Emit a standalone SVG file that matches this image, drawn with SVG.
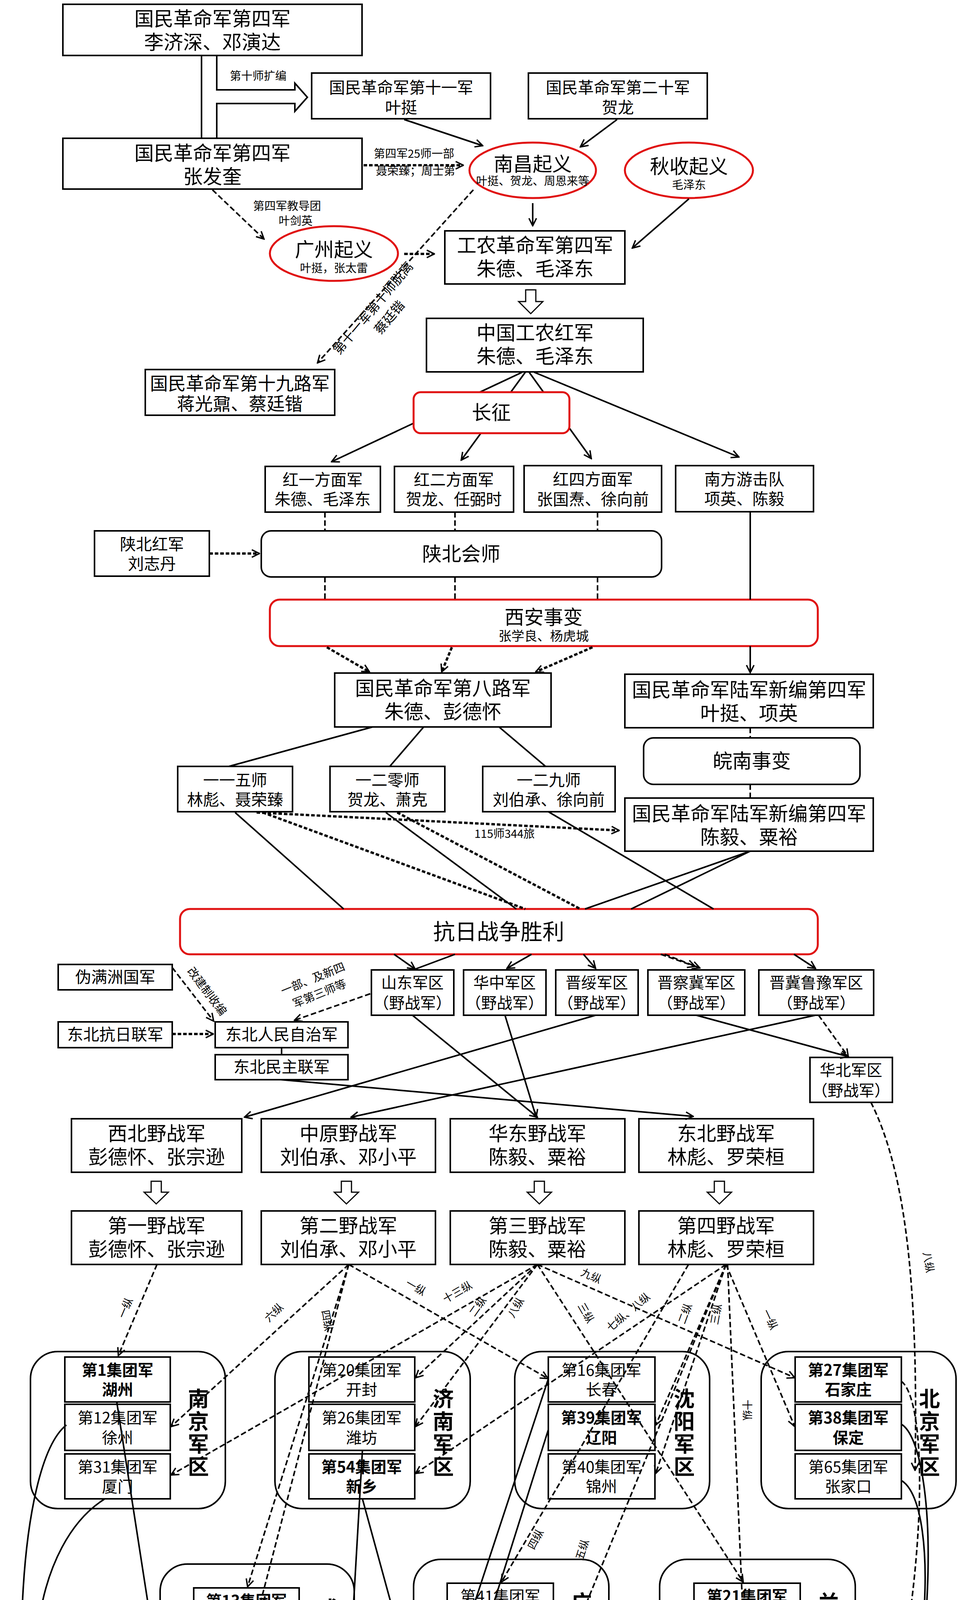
<svg xmlns="http://www.w3.org/2000/svg" width="2453" height="5820" viewBox="0 0 2453 5820">
<style>
text{font-family:"Noto Sans CJK SC","Noto Sans",sans-serif;fill:#000;text-anchor:middle}
.b{fill:#fff;stroke:#000;stroke-width:4}
.r{fill:#fff;stroke:#e01010;stroke-width:5}
.g{fill:none;stroke:#000;stroke-width:4}
.u{fill:none;stroke:#1f6fb5;stroke-width:5}
.s{fill:none;stroke:#000;stroke-width:4}
.d{fill:none;stroke:#000;stroke-width:4;stroke-dasharray:14 7}
.dt{fill:none;stroke:#000;stroke-width:6;stroke-dasharray:9 5}
.f50{font-size:50px}.f46{font-size:46px}.f41{font-size:41px}.f40{font-size:40px}.f33{font-size:33px}.f29{font-size:29px}.f26{font-size:27px}
.rg{font-size:54px;font-weight:bold}
.bd{font-weight:bold}
</style>
<defs>
<marker id="a" viewBox="0 0 20 20" refX="18" refY="10" markerWidth="24" markerHeight="24" markerUnits="userSpaceOnUse" orient="auto"><path d="M2,2 L18,10 L2,18" fill="none" stroke="#000" stroke-width="3"/></marker>
</defs>

<g id="n-4a"><rect class="b" x="161" y="11" width="766" height="131"/><text class="f50" x="544" y="66">国民革命军第四军</text><text class="f50" x="544" y="126">李济深、邓演达</text></g>
<g id="n-11"><rect class="b" x="798" y="187" width="458" height="117"/><text class="f41" x="1027" y="239">国民革命军第十一军</text><text class="f41" x="1027" y="290">叶挺</text></g>
<g id="n-20"><rect class="b" x="1353" y="187" width="458" height="117"/><text class="f41" x="1582" y="239">国民革命军第二十军</text><text class="f41" x="1582" y="290">贺龙</text></g>
<g id="n-4b"><rect class="b" x="161" y="354" width="766" height="130"/><text class="f50" x="544" y="410">国民革命军第四军</text><text class="f50" x="544" y="470">张发奎</text></g>
<g id="n-nc"><ellipse class="r" cx="1364" cy="436" rx="162" ry="71"/><text class="f50" x="1364" y="438">南昌起义</text><text class="f29" x="1364" y="474">叶挺、贺龙、周恩来等</text></g>
<g id="n-qs"><ellipse class="r" cx="1764" cy="436" rx="164" ry="71"/><text class="f50" x="1764" y="444">秋收起义</text><text class="f29" x="1764" y="484">毛泽东</text></g>
<g id="n-gz"><ellipse class="r" cx="855" cy="649" rx="164" ry="70"/><text class="f50" x="855" y="657">广州起义</text><text class="f29" x="855" y="697">叶挺，张太雷</text></g>
<g id="n-gn"><rect class="b" x="1139" y="591" width="461" height="136"/><text class="f50" x="1370" y="646">工农革命军第四军</text><text class="f50" x="1370" y="706">朱德、毛泽东</text></g>
<g id="n-hj"><rect class="b" x="1092" y="815" width="555" height="137"/><text class="f50" x="1370" y="870">中国工农红军</text><text class="f50" x="1370" y="930">朱德、毛泽东</text></g>
<g id="n-19"><rect class="b" x="372" y="946" width="485" height="117"/><text class="f46" x="614" y="998">国民革命军第十九路军</text><text class="f46" x="614" y="1050">蒋光鼐、蔡廷锴</text></g>

<g id="n-h1"><rect class="b" x="679" y="1194" width="295" height="117"/><text class="f41" x="826" y="1243">红一方面军</text><text class="f41" x="826" y="1293">朱德、毛泽东</text></g>
<g id="n-h2"><rect class="b" x="1010" y="1194" width="305" height="117"/><text class="f41" x="1162" y="1243">红二方面军</text><text class="f41" x="1162" y="1293">贺龙、任弼时</text></g>
<g id="n-h4"><rect class="b" x="1342" y="1192" width="352" height="119"/><text class="f41" x="1518" y="1242">红四方面军</text><text class="f41" x="1518" y="1293">张国焘、徐向前</text></g>
<g id="n-nf"><rect class="b" x="1730" y="1192" width="353" height="118"/><text class="f41" x="1906" y="1242">南方游击队</text><text class="f41" x="1906" y="1292">项英、陈毅</text></g>
<g id="n-sbh"><rect class="b" x="242" y="1359" width="294" height="116"/><text class="f41" x="389" y="1408">陕北红军</text><text class="f41" x="389" y="1458">刘志丹</text></g>
<g id="n-sbhs"><rect class="b" x="669" y="1359" width="1025" height="118" rx="25"/><text class="f50" x="1181" y="1436">陕北会师</text></g>
<g id="n-xa"><rect class="r" x="691" y="1535" width="1403" height="119" rx="25"/><text class="f50" x="1392" y="1598">西安事变</text><text class="f33" x="1392" y="1640">张学良、杨虎城</text></g>
<g id="n-8l"><rect class="b" x="857" y="1723" width="554" height="138"/><text class="f50" x="1134" y="1780">国民革命军第八路军</text><text class="f50" x="1134" y="1840">朱德、彭德怀</text></g>
<g id="n-x4a"><rect class="b" x="1600" y="1726" width="636" height="137"/><text class="f50" x="1918" y="1784" textLength="600" lengthAdjust="spacingAndGlyphs">国民革命军陆军新编第四军</text><text class="f50" x="1918" y="1844">叶挺、项英</text></g>
<g id="n-wn"><rect class="b" x="1648" y="1889" width="554" height="119" rx="25"/><text class="f50" x="1925" y="1966">皖南事变</text></g>
<g id="n-x4b"><rect class="b" x="1600" y="2043" width="636" height="136"/><text class="f50" x="1918" y="2101" textLength="600" lengthAdjust="spacingAndGlyphs">国民革命军陆军新编第四军</text><text class="f50" x="1918" y="2161">陈毅、粟裕</text></g>
<g id="n-115"><rect class="b" x="455" y="1962" width="294" height="116"/><text class="f41" x="602" y="2012">一一五师</text><text class="f41" x="602" y="2062">林彪、聂荣臻</text></g>
<g id="n-120"><rect class="b" x="845" y="1962" width="294" height="116"/><text class="f41" x="992" y="2012">一二零师</text><text class="f41" x="992" y="2062">贺龙、萧克</text></g>
<g id="n-129"><rect class="b" x="1236" y="1962" width="339" height="116"/><text class="f41" x="1405" y="2012">一二九师</text><text class="f41" x="1405" y="2062">刘伯承、徐向前</text></g>
<g id="n-kr"><rect class="r" x="461" y="2327" width="1633" height="116" rx="25"/><text x="1277" y="2405" style="font-size:56px">抗日战争胜利</text></g>

<g id="n-wm"><rect class="b" x="149" y="2469" width="292" height="65"/><text class="f41" x="295" y="2516">伪满洲国军</text></g>
<g id="n-kl"><rect class="b" x="149" y="2616" width="292" height="66"/><text class="f41" x="295" y="2663">东北抗日联军</text></g>
<g id="n-zz"><rect class="b" x="551" y="2616" width="340" height="66"/><text class="f41" x="721" y="2663">东北人民自治军</text></g>
<g id="n-mz"><rect class="b" x="551" y="2700" width="340" height="64"/><text class="f41" x="721" y="2746">东北民主联军</text></g>
<g id="n-sd"><rect class="b" x="951" y="2483" width="211" height="116"/><text class="f40" x="1056" y="2530">山东军区</text><text class="f40" x="1056" y="2582">（野战军）</text></g>
<g id="n-hz"><rect class="b" x="1187" y="2483" width="211" height="116"/><text class="f40" x="1292" y="2530">华中军区</text><text class="f40" x="1292" y="2582">（野战军）</text></g>
<g id="n-js"><rect class="b" x="1423" y="2483" width="211" height="116"/><text class="f40" x="1528" y="2530">晋绥军区</text><text class="f40" x="1528" y="2582">（野战军）</text></g>
<g id="n-jcj"><rect class="b" x="1659" y="2483" width="248" height="116"/><text class="f40" x="1783" y="2530">晋察冀军区</text><text class="f40" x="1783" y="2582">（野战军）</text></g>
<g id="n-jjly"><rect class="b" x="1943" y="2483" width="294" height="116"/><text class="f40" x="2090" y="2530">晋冀鲁豫军区</text><text class="f40" x="2090" y="2582">（野战军）</text></g>
<g id="n-hb"><rect class="b" x="2074" y="2707" width="211" height="115"/><text class="f40" x="2179" y="2754">华北军区</text><text class="f40" x="2179" y="2806">（野战军）</text></g>

<g id="n-xb"><rect class="b" x="183" y="2864" width="436" height="137"/><text class="f50" x="401" y="2920">西北野战军</text><text class="f50" x="401" y="2980">彭德怀、张宗逊</text></g>
<g id="n-zy"><rect class="b" x="669" y="2864" width="446" height="137"/><text class="f50" x="892" y="2920">中原野战军</text><text class="f50" x="892" y="2980">刘伯承、邓小平</text></g>
<g id="n-hd"><rect class="b" x="1153" y="2864" width="447" height="137"/><text class="f50" x="1376" y="2920">华东野战军</text><text class="f50" x="1376" y="2980">陈毅、粟裕</text></g>
<g id="n-db"><rect class="b" x="1636" y="2864" width="447" height="137"/><text class="f50" x="1859" y="2920">东北野战军</text><text class="f50" x="1859" y="2980">林彪、罗荣桓</text></g>
<g id="n-y1"><rect class="b" x="183" y="3100" width="436" height="137"/><text class="f50" x="401" y="3156">第一野战军</text><text class="f50" x="401" y="3216">彭德怀、张宗逊</text></g>
<g id="n-y2"><rect class="b" x="669" y="3100" width="446" height="137"/><text class="f50" x="892" y="3156">第二野战军</text><text class="f50" x="892" y="3216">刘伯承、邓小平</text></g>
<g id="n-y3"><rect class="b" x="1153" y="3100" width="447" height="137"/><text class="f50" x="1376" y="3156">第三野战军</text><text class="f50" x="1376" y="3216">陈毅、粟裕</text></g>
<g id="n-y4"><rect class="b" x="1636" y="3100" width="447" height="137"/><text class="f50" x="1859" y="3156">第四野战军</text><text class="f50" x="1859" y="3216">林彪、罗荣桓</text></g>

<g id="r-nj"><rect class="g" x="78" y="3460" width="499" height="402" rx="70"/>
<rect class="b" x="166" y="3474" width="270" height="115"/><text class="f40 bd" x="301" y="3522">第1集团军</text><text class="f40 bd" x="301" y="3572">湖州</text>
<rect class="b" x="166" y="3595" width="270" height="118"/><text class="f40" x="301" y="3644">第12集团军</text><text class="f40" x="301" y="3695">徐州</text>
<rect class="b" x="166" y="3722" width="270" height="115"/><text class="f40" x="301" y="3770">第31集团军</text><text class="f40" x="301" y="3820">厦门</text>
<text class="rg"><tspan x="508" y="3601">南</tspan><tspan x="508" y="3659">京</tspan><tspan x="508" y="3717">军</tspan><tspan x="508" y="3775">区</tspan></text></g>
<g id="r-jn"><rect class="g" x="704" y="3460" width="500" height="402" rx="70"/>
<rect class="b" x="791" y="3474" width="271" height="115"/><text class="f40" x="926" y="3522">第20集团军</text><text class="f40" x="926" y="3572">开封</text>
<rect class="b" x="791" y="3595" width="271" height="118"/><text class="f40" x="926" y="3644">第26集团军</text><text class="f40" x="926" y="3695">潍坊</text>
<rect class="b" x="791" y="3722" width="271" height="115"/><text class="f40 bd" x="926" y="3770">第54集团军</text><text class="f40 bd" x="926" y="3820">新乡</text>
<text class="rg"><tspan x="1135" y="3601">济</tspan><tspan x="1135" y="3659">南</tspan><tspan x="1135" y="3717">军</tspan><tspan x="1135" y="3775">区</tspan></text></g>
<g id="r-sy"><rect class="g" x="1318" y="3460" width="499" height="402" rx="70"/>
<rect class="b" x="1404" y="3474" width="273" height="115"/><text class="f40" x="1540" y="3522">第16集团军</text><text class="f40" x="1540" y="3572">长春</text>
<rect class="b" x="1404" y="3595" width="273" height="118"/><text class="f40 bd" x="1540" y="3644">第39集团军</text><text class="f40 bd" x="1540" y="3695">辽阳</text>
<rect class="b" x="1404" y="3722" width="273" height="115"/><text class="f40" x="1540" y="3770">第40集团军</text><text class="f40" x="1540" y="3820">锦州</text>
<text class="rg"><tspan x="1752" y="3601">沈</tspan><tspan x="1752" y="3659">阳</tspan><tspan x="1752" y="3717">军</tspan><tspan x="1752" y="3775">区</tspan></text></g>
<g id="r-bj"><rect class="g" x="1949" y="3460" width="499" height="402" rx="70"/>
<rect class="b" x="2036" y="3474" width="272" height="115"/><text class="f40 bd" x="2172" y="3522">第27集团军</text><text class="f40 bd" x="2172" y="3572">石家庄</text>
<rect class="b" x="2036" y="3595" width="272" height="118"/><text class="f40 bd" x="2172" y="3644">第38集团军</text><text class="f40 bd" x="2172" y="3695">保定</text>
<rect class="b" x="2036" y="3722" width="272" height="115"/><text class="f40" x="2172" y="3770">第65集团军</text><text class="f40" x="2172" y="3820">张家口</text>
<text class="rg"><tspan x="2380" y="3601">北</tspan><tspan x="2380" y="3659">京</tspan><tspan x="2380" y="3717">军</tspan><tspan x="2380" y="3775">区</tspan></text></g>

<g id="r-cd"><rect class="g" x="410" y="4004" width="497" height="400" rx="70"/>
<rect class="b" x="496" y="4065" width="270" height="117"/><text class="f40 bd" x="631" y="4113">第13集团军</text><text class="f40 bd" x="631" y="4164">重庆</text>
<rect class="b" x="496" y="4231" width="270" height="116"/><text class="f40" x="631" y="4279">第14集团军</text><text class="f40" x="631" y="4330">昆明</text>
<text class="rg"><tspan x="841" y="4139">成</tspan><tspan x="841" y="4197">都</tspan><tspan x="841" y="4255">军</tspan><tspan x="841" y="4313">区</tspan></text></g>
<g id="r-gz"><rect class="g" x="1059" y="3992" width="500" height="401" rx="70"/>
<rect class="b" x="1145" y="4053" width="272" height="116"/><text class="f40" x="1281" y="4101">第41集团军</text><text class="f40" x="1281" y="4152">柳州</text>
<rect class="b" x="1145" y="4218" width="272" height="117"/><text class="f40" x="1281" y="4266">第42集团军</text><text class="f40" x="1281" y="4317">惠州</text>
<text class="rg"><tspan x="1489" y="4123">广</tspan><tspan x="1489" y="4183">州</tspan><tspan x="1489" y="4243">军</tspan><tspan x="1489" y="4303">区</tspan></text></g>
<g id="r-lz"><rect class="g" x="1689" y="3992" width="501" height="401" rx="70"/>
<rect class="b" x="1777" y="4053" width="272" height="116"/><text class="f40 bd" x="1913" y="4101">第21集团军</text><text class="f40 bd" x="1913" y="4152">宝鸡</text>
<rect class="b" x="1777" y="4218" width="272" height="117"/><text class="f40" x="1913" y="4266">第47集团军</text><text class="f40" x="1913" y="4317">西安</text>
<text class="rg"><tspan x="2122" y="4123">兰</tspan><tspan x="2122" y="4183">州</tspan><tspan x="2122" y="4243">军</tspan><tspan x="2122" y="4303">区</tspan></text></g>

<g id="t-db"><rect class="u" x="214" y="4662" width="602" height="534" rx="80"/>
<rect class="b" x="333" y="4690" width="319" height="136"/><text class="f46" x="492" y="4748">第71集团军</text><text class="f46" x="492" y="4806">徐州</text>
<rect class="b" x="333" y="4855" width="319" height="135"/><text class="f46" x="492" y="4913">第72集团军</text><text class="f46" x="492" y="4971">湖州</text>
<rect class="b" x="333" y="5020" width="319" height="135"/><text class="f46" x="492" y="5078">第73集团军</text><text class="f46" x="492" y="5136">厦门</text>
<text class="rg"><tspan x="738" y="4859">东</tspan><tspan x="738" y="4922">部</tspan><tspan x="738" y="4985">战</tspan><tspan x="738" y="5048">区</tspan></text></g>
<g id="t-nb"><rect class="u" x="899" y="4668" width="602" height="534" rx="80"/>
<rect class="b" x="1020" y="4749" width="317" height="135"/><text class="f46" x="1178" y="4807">第74集团军</text><text class="f46" x="1178" y="4865">惠州</text>
<rect class="b" x="1020" y="4974" width="317" height="136"/><text class="f46" x="1178" y="5032">第75集团军</text><text class="f46" x="1178" y="5090">昆明</text>
<text class="rg"><tspan x="1423" y="4859">南</tspan><tspan x="1423" y="4922">部</tspan><tspan x="1423" y="4985">战</tspan><tspan x="1423" y="5048">区</tspan></text></g>
<g id="t-xb"><rect class="u" x="1587" y="4668" width="603" height="534" rx="80"/>
<rect class="b" x="1706" y="4749" width="319" height="135"/><text class="f46" x="1865" y="4807">第76集团军</text><text class="f46" x="1865" y="4865">西宁</text>
<rect class="b" x="1706" y="4974" width="319" height="136"/><text class="f46" x="1865" y="5032">第77集团军</text><text class="f46" x="1865" y="5090">成都</text>
<text class="rg"><tspan x="2111" y="4859">西</tspan><tspan x="2111" y="4922">部</tspan><tspan x="2111" y="4985">战</tspan><tspan x="2111" y="5048">区</tspan></text></g>
<g id="t-bb"><rect class="u" x="536" y="5281" width="603" height="535" rx="80"/>
<rect class="b" x="657" y="5308" width="317" height="137"/><text class="f46" x="815" y="5367">第78集团军</text><text class="f46" x="815" y="5425">哈尔滨</text>
<rect class="b" x="657" y="5475" width="317" height="136"/><text class="f46" x="815" y="5533">第79集团军</text><text class="f46" x="815" y="5591">辽阳</text>
<rect class="b" x="657" y="5639" width="317" height="137"/><text class="f46" x="815" y="5698">第80集团军</text><text class="f46" x="815" y="5756">潍坊</text>
<text class="rg"><tspan x="1059" y="5475">北</tspan><tspan x="1059" y="5539">部</tspan><tspan x="1059" y="5603">战</tspan><tspan x="1059" y="5667">区</tspan></text></g>
<g id="t-zb"><rect class="u" x="1314" y="5281" width="602" height="535" rx="80"/>
<rect class="b" x="1436" y="5308" width="316" height="137"/><text class="f46" x="1594" y="5367">第81集团军</text><text class="f46" x="1594" y="5425">张家口</text>
<rect class="b" x="1436" y="5475" width="316" height="136"/><text class="f46" x="1594" y="5533">第82集团军</text><text class="f46" x="1594" y="5591">保定</text>
<rect class="b" x="1436" y="5639" width="316" height="137"/><text class="f46" x="1594" y="5698">第83集团军</text><text class="f46" x="1594" y="5756">新乡</text>
<text class="rg"><tspan x="1841" y="5475">中</tspan><tspan x="1841" y="5539">部</tspan><tspan x="1841" y="5603">战</tspan><tspan x="1841" y="5667">区</tspan></text></g>

<g id="connectors">
<path class="s" d="M516,142 V354"/>
<path class="s" d="M555,142 V230 H755 V213 L787,249 L755,285 V265 H555 V354"/>
<text class="f29" x="661" y="205">第十师扩编</text>
<path class="s" d="M1035,306 L1236,373" marker-end="url(#a)"/>
<path class="s" d="M1580,306 L1486,376" marker-end="url(#a)"/>
<path class="dt" d="M931,423 L1186,423" marker-end="url(#a)"/>
<text class="f29" x="1060" y="404">第四军25师一部</text>
<text class="f29" x="1064" y="448">聂荣臻；周士第</text>
<path class="s" d="M1364,520 L1364,578" marker-end="url(#a)"/>
<path class="s" d="M1764,509 L1619,635" marker-end="url(#a)"/>
<path class="d" d="M544,486 L676,612" marker-end="url(#a)"/>
<text class="f29" x="735" y="538">第四军教导团</text>
<text class="f29" x="757" y="576">叶剑英</text>
<path class="dt" d="M1035,650 L1112,650" marker-end="url(#a)"/>
<path class="d" d="M1212,486 L813,929" marker-end="url(#a)"/>
<text class="f33" transform="translate(964,796) rotate(-50)">第十一军第十师脱离</text>
<text class="f33" transform="translate(1006,820) rotate(-50)">蔡廷锴</text>
<polygon points="1346,742 1372,742 1372,772 1390,772 1359,803 1328,772 1346,772" fill="#fff" stroke="#000" stroke-width="3"/>
<path class="s" d="M1337,953 L849,1182" marker-end="url(#a)"/>
<path class="s" d="M1345,953 L1181,1178" marker-end="url(#a)"/>
<path class="s" d="M1355,953 L1514,1174" marker-end="url(#a)"/>
<path class="s" d="M1368,953 L1892,1170" marker-end="url(#a)"/>

<path class="d" d="M832,1311 V1359 M1165,1311 V1359 M1530,1311 V1359 M832,1477 V1535 M1165,1477 V1535 M1530,1477 V1535"/>
<path class="dt" d="M536,1417 L664,1417" marker-end="url(#a)"/>
<path class="s" d="M1921,1310 V1535"/>
<path class="s" d="M1921,1654 V1722" marker-end="url(#a)"/>
<path class="dt" d="M837,1657 L946,1720" marker-end="url(#a)"/>
<path class="dt" d="M1157,1657 L1131,1720" marker-end="url(#a)"/>
<path class="dt" d="M1517,1657 L1372,1720" marker-end="url(#a)"/>
<path class="d" d="M1921,1863 V1889 M1921,2008 V2043"/>
<path class="s" d="M954,1861 L586,1962 M1084,1862 L998,1962 M1279,1862 L1397,1962"/>
<path class="dt" d="M657,2080 L1585,2126" marker-end="url(#a)"/>
<text class="f29" x="1292" y="2145">115师344旅</text>
<path class="s" d="M602,2080 L880,2327 M988,2080 L1322,2327 M1404,2078 L1827,2327 M1921,2179 L1498,2327 M1921,2179 L1616,2327"/>
<path class="dt" d="M673,2080 L1345,2327 M1017,2080 L1486,2327"/>

<path class="s" d="M1009,2443 L1063,2481" marker-end="url(#a)"/>
<path class="s" d="M1165,2443 L1063,2481"/>
<path class="s" d="M1361,2443 L1298,2479" marker-end="url(#a)"/>
<path class="s" d="M1494,2443 L1525,2479" marker-end="url(#a)"/>
<path class="d" d="M1692,2443 L1780,2474" marker-end="url(#a)"/>
<path class="d" d="M1702,2443 L1792,2478" marker-end="url(#a)"/>
<path class="s" d="M2033,2443 L2088,2479" marker-end="url(#a)"/>
<path class="d" d="M441,2477 L547,2614" marker-end="url(#a)"/>
<text class="f29" transform="translate(522,2544) rotate(53)">改建制收编</text>
<path class="dt" d="M441,2647 L546,2647" marker-end="url(#a)"/>
<path class="d" d="M948,2544 L754,2612" marker-end="url(#a)"/>
<text class="f29" transform="translate(805,2515) rotate(-22)">一部、及新四</text>
<text class="f29" transform="translate(822,2553) rotate(-22)">军第三师等</text>
<path class="s" d="M721,2682 V2700"/>
<path class="s" d="M1056,2599 L1376,2860" marker-end="url(#a)"/>
<path class="s" d="M1293,2599 L1373,2860" marker-end="url(#a)"/>
<path class="s" d="M1525,2599 L626,2860" marker-end="url(#a)"/>
<path class="s" d="M1783,2599 L2172,2705" marker-end="url(#a)"/>
<path class="s" d="M2088,2599 L899,2860" marker-end="url(#a)"/>
<path class="d" d="M2096,2599 L2172,2705" marker-end="url(#a)"/>
<path class="s" d="M719,2764 L1775,2858" marker-end="url(#a)"/>

<g fill="#fff" stroke="#000" stroke-width="3">
<polygon points="387,3024 413,3024 413,3052 431,3052 400,3082 369,3052 387,3052"/>
<polygon points="874,3024 900,3024 900,3052 918,3052 887,3082 856,3052 874,3052"/>
<polygon points="1368,3024 1394,3024 1394,3052 1412,3052 1381,3082 1350,3052 1368,3052"/>
<polygon points="1829,3024 1855,3024 1855,3052 1873,3052 1842,3082 1811,3052 1829,3052"/>
</g>

<path class="d" d="M402,3237 L303,3470" marker-end="url(#a)"/>
<path class="d" d="M893,3237 L438,3652" marker-end="url(#a)"/>
<path class="d" d="M893,3237 L634,4062" marker-end="url(#a)"/>
<path class="d" d="M893,3237 L634,4228" marker-end="url(#a)"/>
<path class="d" d="M893,3237 L1403,3529" marker-end="url(#a)"/>
<path class="d" d="M1376,3237 L1064,3527" marker-end="url(#a)"/>
<path class="d" d="M1376,3237 L1064,3652" marker-end="url(#a)"/>
<path class="d" d="M1376,3237 L438,3776" marker-end="url(#a)"/>
<path class="d" d="M1376,3237 L2035,3527" marker-end="url(#a)"/>
<path class="d" d="M1376,3237 L1903,4050" marker-end="url(#a)"/>
<path class="d" d="M1859,3237 L1064,3772" marker-end="url(#a)"/>
<path class="d" d="M1859,3237 L1679,3648" marker-end="url(#a)"/>
<path class="d" d="M1859,3237 L1679,3772" marker-end="url(#a)"/>
<path class="d" d="M1763,3237 L1284,4050" marker-end="url(#a)"/>
<path class="d" d="M1859,3237 L1428,4282" marker-end="url(#a)"/>
<path class="d" d="M1863,3237 L1911,4332" marker-end="url(#a)"/>
<path class="d" d="M1859,3237 L2035,3652" marker-end="url(#a)"/>
<path class="d" d="M2230,2822 C2320,3000 2352,3300 2343,3764" marker-end="url(#a)"/>
<path class="d" d="M2308,3536 C2390,3600 2370,4200 2200,4700 S1800,5340 1757,5416" marker-end="url(#a)"/>
<path class="d" d="M208,4289 L491,4289" marker-end="url(#a)"/>
<path class="d" d="M633,4347 L1181,4965" marker-end="url(#a)"/>

<g class="f26">
<text transform="translate(330,3352) rotate(-67)">一纵</text>
<text transform="translate(708,3367) rotate(-44)">六纵</text>
<text transform="translate(828,3382) rotate(80)">四纵</text>
<text transform="translate(1060,3304) rotate(30)">一纵</text>
<text transform="translate(1176,3316) rotate(-30)">十三纵</text>
<text transform="translate(1231,3350) rotate(-55)">二纵</text>
<text transform="translate(1329,3352) rotate(-60)">八纵</text>
<text transform="translate(1510,3275) rotate(24)">九纵</text>
<text transform="translate(1492,3366) rotate(60)">三纵</text>
<text transform="translate(1615,3366) rotate(-40)">七纵、八纵</text>
<text transform="translate(1763,3366) rotate(-70)">二纵</text>
<text transform="translate(1843,3366) rotate(-80)">三纵</text>
<text transform="translate(1963,3382) rotate(65)">一纵</text>
<text transform="translate(1903,3610) rotate(90)">十纵</text>
<text transform="translate(1380,3945) rotate(-62)">四纵</text>
<text transform="translate(1500,3970) rotate(-72)">五纵</text>
<text transform="translate(2368,3233) rotate(80)">八纵</text>
</g>
<text class="f29" x="321" y="4276">淮海战役中起义</text>
<text class="f29" x="321" y="4318">国军第110师</text>

<path class="s" d="M299,3589 L493,4841" marker-end="url(#a)"/>
<path class="s" d="M170,3648 C40,3750 20,4400 110,4720 S300,4990 344,5020" marker-end="url(#a)"/>
<path class="s" d="M267,3838 C90,3950 40,4300 150,4550 S300,4740 330,4763" marker-end="url(#a)"/>
<path class="s" d="M928,3713 L817,5633" marker-end="url(#a)"/>
<path class="s" d="M928,3837 L1436,5692" marker-end="url(#a)"/>
<path class="s" d="M766,4127 L1705,5039" marker-end="url(#a)"/>
<path class="s" d="M1404,3530 L821,5300" marker-end="url(#a)"/>
<path class="s" d="M1404,3660 L816,5527" marker-end="url(#a)"/>
<path class="s" d="M1282,4335 L1181,4745" marker-end="url(#a)"/>
<path class="s" d="M1282,4169 L1181,4970" marker-end="url(#a)"/>
<path class="s" d="M2049,4116 C2200,4200 2230,4550 2027,4747" marker-end="url(#a)"/>
<path class="s" d="M2308,3646 C2400,3700 2430,4300 2200,4900 S1800,5480 1756,5556" marker-end="url(#a)"/>
<path class="s" d="M2308,3790 C2410,3850 2400,4400 2150,4950 S1800,5340 1756,5410" marker-end="url(#a)"/>
</g>

<g id="n-cz"><rect class="r" x="1059" y="1004" width="399" height="105" rx="18"/><text class="f50" x="1258" y="1074">长征</text></g>
</svg>
